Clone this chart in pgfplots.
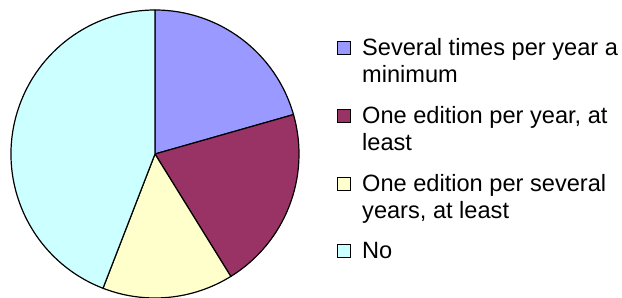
\documentclass[border=0pt]{standalone}
\usepackage{pgfplots}
\pgfplotsset{compat=1.18}
\usepackage{pgfplotstable}
\usepackage{fontspec}
\setmainfont{Liberation Sans}
\definecolor{pieA}{HTML}{9999FF}
\definecolor{pieB}{HTML}{993366}
\definecolor{pieC}{HTML}{FFFFCC}
\definecolor{pieD}{HTML}{CCFFFF}
\pgfplotstableread{
value color
14 pieA
14 pieB
10 pieC
30 pieD
}\piedata
% cumulative angles, computed from the table
\xdef\total{0}
\pgfplotsinvokeforeach{0,1,2,3}{%
  \pgfplotstablegetelem{#1}{value}\of\piedata
  \pgfmathparse{\total+\pgfplotsretval}\xdef\total{\pgfmathresult}}
\xdef\cum{0}
\pgfplotsinvokeforeach{0,1,2,3}{%
  \pgfplotstablegetelem{#1}{value}\of\piedata
  \edef\val{\pgfplotsretval}%
  \pgfmathparse{90-360*(\cum/\total)}\expandafter\xdef\csname sa#1\endcsname{\pgfmathresult}%
  \pgfmathparse{\cum+\val}\xdef\cum{\pgfmathresult}%
  \pgfmathparse{90-360*(\cum/\total)}\expandafter\xdef\csname ea#1\endcsname{\pgfmathresult}%
  \pgfplotstablegetelem{#1}{color}\of\piedata
  \expandafter\xdef\csname col#1\endcsname{\pgfplotsretval}}
\begin{document}
\begin{tikzpicture}
\begin{axis}[hide axis, x=1bp, y=1bp, xmin=0, xmax=622, ymin=0, ymax=298,
  anchor=south west, at={(0,0)}, clip=false]
\pgfplotsinvokeforeach{0,1,2,3}{
  \edef\cmd{\noexpand\filldraw[fill=\csname col#1\endcsname, draw=black, line width=1.2bp, line join=round]
    (axis cs:155,144) -- ++(\csname sa#1\endcsname:144bp) arc[start angle=\csname sa#1\endcsname, end angle=\csname ea#1\endcsname, radius=144bp] -- cycle;}
  \cmd
}
% legend
\def\sq#1#2{\filldraw[fill=#2, draw=black, line width=0.9bp] (axis cs:337.5,{298-#1}) rectangle (axis cs:350.5,{298-#1+13});}
\tikzset{lt/.style={anchor=base west, inner sep=0pt, font=\fontsize{23.6bp}{27bp}\selectfont}}
\sq{54}{pieA}
\node[lt] at (axis cs:362,{298-55}) {Several times per year a};
\node[lt] at (axis cs:362,{298-82}) {minimum};
\sq{122}{pieB}
\node[lt] at (axis cs:362,{298-123}) {One edition per year, at};
\node[lt] at (axis cs:362,{298-150}) {least};
\sq{190}{pieC}
\node[lt] at (axis cs:362,{298-191}) {One edition per several};
\node[lt] at (axis cs:362,{298-218}) {years, at least};
\sq{257}{pieD}
\node[lt] at (axis cs:362,{298-258}) {No};
\end{axis}
\pgfresetboundingbox
\useasboundingbox (0,0) rectangle (622bp,298bp);
\end{tikzpicture}
\end{document}
